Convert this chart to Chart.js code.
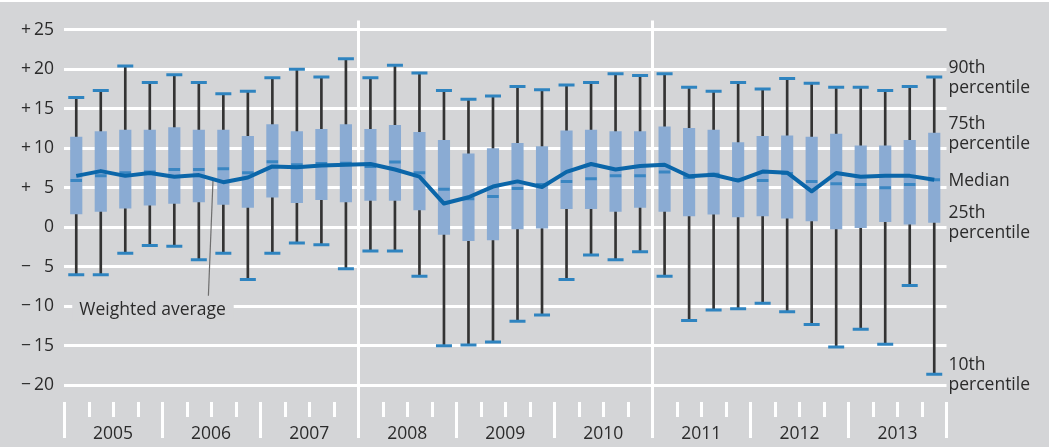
<!DOCTYPE html>
<html>
<head>
<meta charset="utf-8">
<script src="https://cdn.jsdelivr.net/npm/chart.js@4.4.1/dist/chart.umd.min.js"></script>
<style>
  html, body { margin: 0; padding: 0; background: #ffffff; }
  #wrap { width: 1049px; height: 447px; }
</style>
</head>
<body>
<div id="wrap"><canvas id="chart" width="1049" height="447"></canvas></div>
<script>
// Quarterly distribution, 2005 Q1 – 2013 Q4
const years = ['2005', '2006', '2007', '2008', '2009', '2010', '2011', '2012', '2013'];
const quarters = years.flatMap(y => ['Q1', 'Q2', 'Q3', 'Q4'].map(q => y + ' ' + q));

const p90 = [16.4, 17.3, 20.4, 18.3, 19.3, 18.3, 16.9, 17.2, 18.9, 20.0, 19.0, 21.3,
             18.9, 20.5, 19.5, 17.3, 16.2, 16.6, 17.8, 17.4, 18.0, 18.3, 19.4, 19.2,
             19.4, 17.7, 17.2, 18.3, 17.5, 18.8, 18.2, 17.7, 17.7, 17.3, 17.8, 19.0];
const p75 = [11.4, 12.1, 12.3, 12.3, 12.6, 12.3, 12.3, 11.5, 13.0, 12.1, 12.4, 13.0,
             12.4, 12.9, 12.0, 11.0, 9.3, 9.95, 10.6, 10.2, 12.2, 12.3, 12.1, 12.1,
             12.7, 12.5, 12.3, 10.7, 11.5, 11.55, 11.4, 11.8, 10.3, 10.3, 11.0, 11.9];
const median = [5.9, 6.5, 6.9, 7.0, 7.3, 7.3, 7.4, 6.9, 8.3, 7.9, 8.05, 8.1,
                7.7, 8.25, 6.9, 4.8, 3.6, 3.9, 4.9, 5.4, 5.8, 6.15, 6.5, 6.5,
                7.0, 6.3, 6.7, 6.0, 5.9, 6.8, 5.8, 5.5, 5.4, 5.0, 5.4, 6.0];
const p25 = [1.7, 2.0, 2.4, 2.8, 3.0, 3.2, 2.9, 2.5, 3.8, 3.1, 3.5, 3.2,
             3.4, 3.4, 2.2, -0.9, -1.7, -1.6, -0.2, -0.1, 2.35, 2.35, 2.0, 2.5,
             2.0, 1.45, 1.65, 1.3, 1.45, 1.15, 0.8, -0.2, -0.05, 0.7, 0.4, 0.6];
const p10 = [-6.0, -6.0, -3.3, -2.3, -2.4, -4.1, -3.3, -6.6, -3.3, -2.0, -2.2, -5.25,
             -3.0, -3.0, -6.2, -15.0, -14.9, -14.5, -11.9, -11.1, -6.6, -3.5, -4.1, -3.1,
             -6.2, -11.8, -10.45, -10.3, -9.6, -10.7, -12.3, -15.15, -12.9, -14.8, -7.35, -18.6];
const weightedAverage = [6.5, 7.1, 6.5, 6.85, 6.4, 6.6, 5.7, 6.3, 7.7, 7.6, 7.8, 7.9,
                         8.0, 7.3, 6.4, 3.0, 3.8, 5.15, 5.8, 5.1, 7.0, 8.0, 7.3, 7.75,
                         7.9, 6.45, 6.65, 5.9, 7.05, 6.9, 4.55, 6.85, 6.4, 6.5, 6.5, 6.0];

const yTickValues = [-20, -15, -10, -5, 0, 5, 10, 15, 20, 25];
const yTickLabels = ['\u2212\u200920', '\u2212\u200915', '\u2212\u200910', '\u2212\u2009\u20075', '0',
                     '+\u2009\u20075', '+\u200910', '+\u200915', '+\u200920', '+\u200925'];
const yearSeparators = [12, 24]; // quarter index where the full-height dividers sit

const FONT = '"Open Sans", "DejaVu Sans", sans-serif';
const FONT_SIZE = 17.5;
const TEXT = '#2b2b2b';

const decor = {
  id: 'decor',
  beforeDraw(chart) {
    const { ctx, width, height } = chart;
    ctx.save();
    ctx.fillStyle = '#d4d5d7';
    ctx.fillRect(0, 0, width, height);
    ctx.fillStyle = '#ffffff';
    ctx.fillRect(0, 0, width, 2);
    ctx.restore();
  },
  beforeDatasetsDraw(chart) {
    const { ctx, chartArea: ca, scales: { x, y } } = chart;
    const x0 = x.getPixelForValue(0);
    const step = x.getPixelForValue(1) - x0;
    ctx.save();

    // quarter / year ticks under the plot, plus the two full-height dividers
    ctx.strokeStyle = '#ffffff';
    ctx.lineWidth = 3;
    for (let i = 0; i <= quarters.length; i++) {
      const px = Math.round(x0 + (i - 0.5) * step) + 0.5;
      const isYear = i % 4 === 0;
      const top = yearSeparators.includes(i) ? ca.top : ca.bottom;
      ctx.beginPath();
      ctx.moveTo(px, top);
      ctx.lineTo(px, ca.bottom + (isYear ? 36 : 15));
      ctx.stroke();
    }

    // year labels
    ctx.fillStyle = TEXT;
    ctx.font = FONT_SIZE + 'px ' + FONT;
    ctx.textAlign = 'center';
    ctx.textBaseline = 'alphabetic';
    years.forEach((yr, k) => {
      ctx.fillText(yr, x0 + (4 * k + 1.5) * step, ca.bottom + 37);
    });

    // "Weighted average" callout
    const label = 'Weighted average';
    const tx = x0 + 3;
    const ty = y.getPixelForValue(-10) + 8.5;
    const tw = ctx.measureText(label).width;
    ctx.fillStyle = '#d4d5d7';
    ctx.fillRect(tx - 7, ty - 16, tw + 15, 22);
    ctx.fillStyle = TEXT;
    ctx.textAlign = 'left';
    ctx.fillText(label, tx, ty);

    const f = 0.58;
    const lx1 = x.getPixelForValue(5) + f * step;
    const ly1 = y.getPixelForValue(weightedAverage[5] + f * (weightedAverage[6] - weightedAverage[5]));
    const lx0 = x.getPixelForValue(5) + 0.39 * step;
    const ly0 = ty - 19;
    ctx.strokeStyle = '#6e6e6e';
    ctx.lineWidth = 1.2;
    ctx.beginPath();
    ctx.moveTo(lx0, ly0);
    ctx.lineTo(lx1, ly1);
    ctx.stroke();

    ctx.restore();
  },
  afterDatasetsDraw(chart) {
    const { ctx, chartArea: ca, scales: { y } } = chart;
    const last = quarters.length - 1;
    const keys = [
      { lines: ['90th', 'percentile'], v: p90[last] },
      { lines: ['75th', 'percentile'], v: p75[last] },
      { lines: ['Median'], v: median[last] },
      { lines: ['25th', 'percentile'], v: p25[last] },
      { lines: ['10th', 'percentile'], v: p10[last] }
    ];
    ctx.save();
    ctx.fillStyle = TEXT;
    ctx.font = FONT_SIZE + 'px ' + FONT;
    ctx.textAlign = 'left';
    ctx.textBaseline = 'alphabetic';
    keys.forEach(k => {
      const cy = y.getPixelForValue(k.v);
      const n = k.lines.length;
      k.lines.forEach((t, j) => {
        ctx.fillText(t, ca.right + 2, cy - (n - 1) * 10 + j * 20 + 5.7);
      });
    });
    ctx.restore();
  }
};

function build() {
  new Chart(document.getElementById('chart'), {
    type: 'bar',
    data: {
      labels: quarters,
      datasets: [
        {
          type: 'line',
          label: 'Weighted average',
          data: weightedAverage,
          borderColor: '#0b66a9',
          borderWidth: 4,
          pointRadius: 0,
          tension: 0,
          borderJoinStyle: 'round',
          order: 1
        },
        {
          type: 'line',
          label: '90th percentile',
          data: p90,
          showLine: false,
          pointStyle: 'line',
          pointRadius: 8,
          pointBorderWidth: 3,
          pointBorderColor: '#2f84c0',
          order: 2
        },
        {
          type: 'line',
          label: '10th percentile',
          data: p10,
          showLine: false,
          pointStyle: 'line',
          pointRadius: 8,
          pointBorderWidth: 3,
          pointBorderColor: '#2f84c0',
          order: 2
        },
        {
          type: 'line',
          label: 'Median',
          data: median,
          showLine: false,
          pointStyle: 'line',
          pointRadius: 5.75,
          pointBorderWidth: 3,
          pointBorderColor: '#3a86c2',
          order: 3
        },
        {
          label: '25th–75th percentile',
          data: p25.map((v, i) => [v, p75[i]]),
          backgroundColor: '#8aabd3',
          borderWidth: 0,
          barThickness: 11.5,
          grouped: false,
          order: 4
        },
        {
          label: '10th–90th percentile',
          data: p10.map((v, i) => [v, p90[i]]),
          backgroundColor: '#333333',
          borderWidth: 0,
          barThickness: 2,
          grouped: false,
          order: 5
        }
      ]
    },
    options: {
      responsive: false,
      animation: false,
      events: [],
      devicePixelRatio: 1,
      layout: { padding: { top: 14, right: 102.5, left: 0, bottom: 0 } },
      plugins: { legend: { display: false }, tooltip: { enabled: false } },
      scales: {
        x: {
          grid: { display: false },
          border: { display: false },
          ticks: { display: false },
          afterFit(scale) { scale.height = 45; }
        },
        y: {
          min: -22.1,
          max: 26.15,
          afterBuildTicks(scale) { scale.ticks = yTickValues.map(v => ({ value: v })); },
          grid: { color: '#ffffff', lineWidth: 3, drawTicks: false },
          border: { display: false },
          ticks: {
            padding: 10,
            color: TEXT,
            font: { family: FONT, size: FONT_SIZE },
            callback: (v) => yTickLabels[yTickValues.indexOf(v)]
          },
          afterFit(scale) { scale.width = 64; }
        }
      }
    },
    plugins: [decor]
  });
}

if (document.fonts && document.fonts.load) {
  document.fonts.load(FONT_SIZE + 'px "Open Sans"').then(build, build);
} else {
  build();
}
</script>
</body>
</html>
